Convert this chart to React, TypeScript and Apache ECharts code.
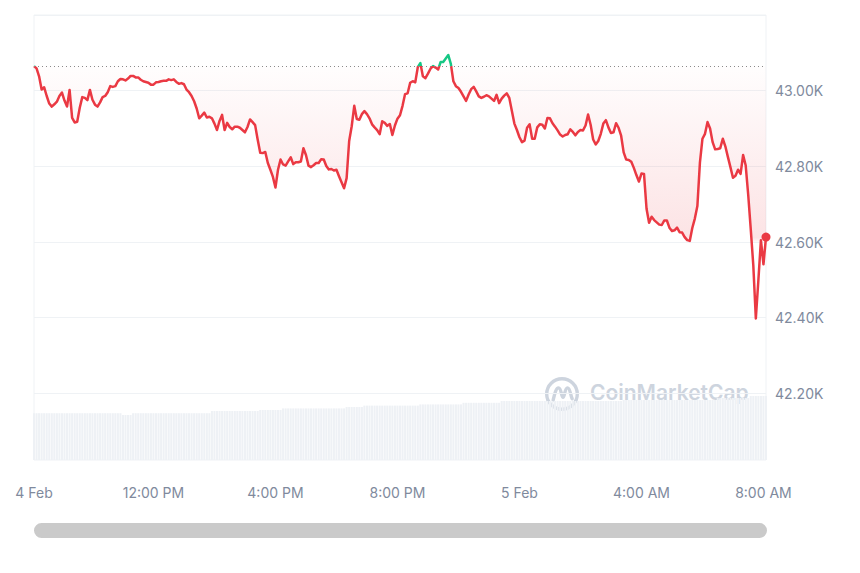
import React, { useEffect, useRef } from 'react';
import * as echarts from 'echarts';

// 5-minute BTC prices (USD), 4 Feb 08:05 -> 5 Feb 08:05
const startUtc = Date.UTC(2024, 1, 4, 8, 5);
const stepMinutes = 5;
const basePrice = 43065;
const yMin = 42024;
const yMax = 43200;

const prices: number[] = [
  43065, 43059, 43038, 43003, 43009, 42986, 42966, 42958, 42964, 42971,
  42986, 42995, 42974, 42958, 43002, 42928, 42916, 42918, 42955, 42983,
  42981, 42975, 43002, 42976, 42963, 42958, 42969, 42983, 42986, 42996,
  43012, 43010, 43012, 43025, 43031, 43030, 43027, 43032, 43039, 43039,
  43035, 43035, 43029, 43025, 43023, 43021, 43016, 43016, 43022, 43023,
  43025, 43026, 43026, 43030, 43028, 43030, 43023, 43018, 43020, 43017,
  43003, 42996, 42986, 42972, 42953, 42927, 42934, 42942, 42929, 42931,
  42927, 42913, 42896, 42920, 42936, 42896, 42915, 42904, 42898, 42905,
  42905, 42902, 42896, 42890, 42904, 42924, 42917, 42909, 42871, 42836,
  42835, 42838, 42809, 42791, 42772, 42744, 42791, 42818, 42805, 42802,
  42813, 42824, 42806, 42811, 42811, 42813, 42848, 42830, 42802, 42798,
  42803, 42809, 42809, 42819, 42818, 42801, 42792, 42793, 42789, 42791,
  42774, 42758, 42742, 42769, 42867, 42906, 42960, 42925, 42923, 42938,
  42946, 42938, 42927, 42911, 42903, 42896, 42885, 42919, 42915, 42907,
  42912, 42883, 42908, 42926, 42935, 42960, 42991, 42993, 43021, 43025,
  43022, 43062, 43073, 43038, 43033, 43045, 43058, 43065, 43061, 43056,
  43076, 43076, 43085, 43094, 43071, 43025, 43012, 43007, 42997, 42985,
  42973, 42990, 43004, 43010, 42998, 42985, 42981, 42984, 42988, 42985,
  42979, 42973, 42989, 42967, 42979, 42987, 42993, 42981, 42947, 42913,
  42896, 42877, 42864, 42868, 42902, 42911, 42873, 42873, 42903, 42911,
  42910, 42900, 42928, 42927, 42914, 42905, 42895, 42884, 42879, 42883,
  42885, 42898, 42891, 42882, 42891, 42896, 42895, 42908, 42937, 42910,
  42871, 42858, 42867, 42886, 42913, 42922, 42903, 42888, 42890, 42914,
  42902, 42881, 42837, 42818, 42817, 42812, 42796, 42777, 42760, 42781,
  42780, 42688, 42651, 42667, 42658, 42652, 42646, 42645, 42657, 42657,
  42638, 42629, 42631, 42638, 42626, 42625, 42613, 42605, 42603, 42637,
  42662, 42695, 42810, 42873, 42886, 42917, 42900, 42864, 42845, 42846,
  42848, 42873, 42853, 42825, 42798, 42770, 42775, 42791, 42780, 42830,
  42803, 42725, 42634, 42539, 42398, 42499, 42605, 42541, 42613,
];

// 24h volume (USD billions) behind each point
const volumes: number[] = [
  11.7, 11.7, 11.7, 11.7, 11.7, 11.7, 11.7, 11.7, 11.7, 11.7,
  11.7, 11.7, 11.7, 11.7, 11.7, 11.7, 11.7, 11.7, 11.7, 11.7,
  11.7, 11.7, 11.7, 11.7, 11.7, 11.7, 11.7, 11.7, 11.7, 11.7,
  11.7, 11.7, 11.7, 11.7, 11.7,
  11.25, 11.25, 11.25, 11.25,
  11.7, 11.7, 11.7, 11.7, 11.7, 11.7, 11.7, 11.7, 11.7, 11.7,
  11.7, 11.7, 11.7, 11.7, 11.7, 11.7, 11.7, 11.7, 11.7, 11.7,
  11.7, 11.7, 11.7, 11.7, 11.7, 11.7, 11.7, 11.7, 11.7, 11.7,
  11.7,
  12.25, 12.25, 12.25, 12.25, 12.25, 12.25, 12.25, 12.25, 12.25, 12.25,
  12.25, 12.25, 12.25, 12.25, 12.25, 12.25, 12.25, 12.25, 12.25,
  12.5, 12.5, 12.5, 12.5, 12.5, 12.5, 12.5, 12.5, 12.5,
  12.9, 12.9, 12.9, 12.9, 12.9, 12.9, 12.9, 12.9, 12.9, 12.9,
  12.9, 12.9, 12.9, 12.9, 12.9, 12.9, 12.9, 12.9, 12.9, 12.9,
  12.9, 12.9, 12.9, 12.9, 12.9,
  13.25, 13.25, 13.25, 13.25, 13.25, 13.25, 13.25,
  13.6, 13.6, 13.6, 13.6, 13.6, 13.6, 13.6, 13.6, 13.6, 13.6,
  13.6, 13.6, 13.6, 13.6, 13.6, 13.6, 13.6, 13.6, 13.6, 13.6,
  13.6, 13.6,
  13.9, 13.9, 13.9, 13.9, 13.9, 13.9, 13.9, 13.9, 13.9, 13.9,
  13.9, 13.9, 13.9, 13.9, 13.9, 13.9, 13.9,
  14.3, 14.3, 14.3, 14.3, 14.3, 14.3, 14.3, 14.3, 14.3, 14.3,
  14.3, 14.3, 14.3, 14.3, 14.3,
  14.75, 14.75, 14.75, 14.75, 14.75, 14.75, 14.75, 14.75, 14.75, 14.75,
  14.75, 14.75, 14.75, 14.75, 14.75, 14.75, 14.75, 14.75, 14.75, 14.75,
  14.75, 14.75, 14.75, 14.75, 14.75, 14.75, 14.75, 14.75, 14.75, 14.75,
  14.75, 14.75, 14.75, 14.75, 14.75, 14.75, 14.75, 14.75, 14.75, 14.75,
  14.75, 14.75, 14.75, 14.75, 14.75, 14.75, 14.75, 14.75,
  15.0, 15.0, 15.0, 15.0, 15.0, 15.0, 15.0, 15.0, 15.0, 15.0,
  15.0, 15.0, 15.0, 15.0, 15.0, 15.0, 15.0, 15.0, 15.0, 15.0,
  15.0, 15.0, 15.0, 15.0, 15.0, 15.0, 15.0, 15.0, 15.0, 15.0,
  15.0, 15.0, 15.0, 15.0, 15.0, 15.0, 15.0,
  15.5, 15.5, 15.5, 15.5, 15.5, 15.5, 15.5, 15.5, 15.5, 15.5,
  15.5, 15.5, 15.5,
  16.0, 16.0, 16.0, 16.0, 16.0, 16.0, 16.0,
];

const monthNames = ['Jan', 'Feb', 'Mar', 'Apr', 'May', 'Jun', 'Jul', 'Aug', 'Sep', 'Oct', 'Nov', 'Dec'];
const pad = (n: number) => (n < 10 ? '0' + n : '' + n);

const categories: string[] = prices.map((_, i) => {
  const d = new Date(startUtc + i * stepMinutes * 60000);
  return `${d.getUTCFullYear()}-${pad(d.getUTCMonth() + 1)}-${pad(d.getUTCDate())} ${pad(d.getUTCHours())}:${pad(d.getUTCMinutes())}`;
});

const isLabelTick = (index: number, value: string) => {
  if (index === 0) return true;
  const hh = +value.slice(11, 13);
  const mm = +value.slice(14, 16);
  return mm === 0 && hh % 4 === 0;
};

const formatXLabel = (value: string, index: number) => {
  const hh = +value.slice(11, 13);
  const mm = +value.slice(14, 16);
  const day = +value.slice(8, 10);
  const mon = monthNames[+value.slice(5, 7) - 1];
  if (index === 0 || (hh === 0 && mm === 0)) return `${day} ${mon}`;
  if (mm !== 0 || hh % 4 !== 0) return '';
  const h12 = hh % 12 === 0 ? 12 : hh % 12;
  return `${h12}:00 ${hh < 12 ? 'AM' : 'PM'}`;
};

const logoPath =
  'M5 50A45 45 0 1 1 95 50A45 45 0 1 1 5 50Z' +
  'M24 68C28 52 32 32 40 32C48 32 48 60 53 60C58 60 58 32 66 32C74 32 75 54 80 64';

let logoRegistered = false;
function ensureLogo() {
  if (logoRegistered) return;
  echarts.graphic.registerShape('cmcLogo', echarts.graphic.extendPath(logoPath, {}));
  logoRegistered = true;
}

// layout of the price grid (pixels)
const gridTop = 15;
const gridBottomY = 460;

export default function App() {
  const ref = useRef<HTMLDivElement>(null);

  useEffect(() => {
    if (!ref.current) return;
    ensureLogo();
    const chart = echarts.init(ref.current, undefined, { renderer: 'svg' });
    const last = prices.length - 1;
    const labelColor = '#808a9d';
    const markColor = '#cdd4de';
    const red = '#ea3943';
    const green = '#16c784';

    // baseline position in pixels, used for the two-colour stroke and the fill
    const baseFrac = (yMax - basePrice) / (yMax - yMin);
    const baseY = gridTop + baseFrac * (gridBottomY - gridTop);
    const lineGradient = new echarts.graphic.LinearGradient(0, gridTop, 0, gridBottomY, [
      { offset: 0, color: green },
      { offset: baseFrac, color: green },
      { offset: baseFrac, color: red },
      { offset: 1, color: red },
    ], true);

    const option: any = {
      animation: false,
      grid: [
        {
          left: 34, right: 94, top: gridTop, bottom: 573 - gridBottomY,
          show: true, borderColor: '#eff2f5', borderWidth: 1, backgroundColor: 'transparent',
        },
        { left: 34, right: 94, top: 380, bottom: 573 - gridBottomY },
      ],
      xAxis: [
        {
          type: 'category', gridIndex: 0, data: categories, boundaryGap: false,
          axisLine: { show: false }, axisTick: { show: false }, splitLine: { show: false },
          axisLabel: {
            interval: (index: number, value: string) => isLabelTick(index, value),
            formatter: formatXLabel,
            color: labelColor, fontSize: 14, fontFamily: 'Inter', margin: 25,
          },
        },
        { type: 'category', gridIndex: 1, data: categories, boundaryGap: false, show: false },
      ],
      yAxis: [
        {
          type: 'value', gridIndex: 0, position: 'right', min: yMin, max: yMax, splitNumber: 5,
          axisLine: { show: false }, axisTick: { show: false },
          axisLabel: {
            showMinLabel: false, showMaxLabel: false,
            formatter: (v: number) => (v / 1000).toFixed(2) + 'K',
            color: labelColor, fontSize: 14, fontFamily: 'Inter', margin: 9,
          },
          splitLine: { show: true, showMinLine: false, lineStyle: { color: '#eff2f5', width: 1 } },
        },
        { type: 'value', gridIndex: 1, min: 0, max: 20, show: false },
      ],
      series: [
        {
          type: 'line', xAxisIndex: 0, yAxisIndex: 0, data: prices,
          showSymbol: false, smooth: false, z: 3,
          lineStyle: { width: 2.5, color: lineGradient, join: 'round' },
          itemStyle: { color: red },
          areaStyle: {
            origin: basePrice,
            color: new echarts.graphic.LinearGradient(0, baseY, 0, 243, [
              { offset: 0, color: 'rgba(234,57,67,0.01)' },
              { offset: 0.97, color: 'rgba(234,57,67,0.2)' },
              { offset: 1, color: 'rgba(234,57,67,0)' },
            ], true),
          },
          markLine: {
            silent: true, symbol: ['none', 'none'],
            label: { show: false },
            lineStyle: { type: [1, 3], color: '#8a8a8a', width: 1 },
            data: [{ yAxis: basePrice }],
          },
        },
        {
          type: 'scatter', xAxisIndex: 0, yAxisIndex: 0, z: 5,
          data: [[last, prices[last]]],
          symbol: 'circle', symbolSize: 9,
          itemStyle: { color: red, opacity: 1 },
        },
        {
          type: 'bar', xAxisIndex: 1, yAxisIndex: 1, data: volumes,
          barCategoryGap: '20%', itemStyle: { color: '#eef1f5' }, z: 1,
        },
      ],
      graphic: [
        {
          type: 'group', left: 545, top: 377, z: 100, silent: true,
          children: [
            {
              type: 'cmcLogo', x: 0, y: 0, scaleX: 0.34, scaleY: 0.34,
              style: { fill: 'none', stroke: markColor, lineWidth: 10, lineCap: 'round' },
            },
            {
              type: 'text', x: 45, y: 15,
              style: {
                text: 'CoinMarketCap', fill: markColor, fontSize: 21, fontWeight: 600,
                fontFamily: 'Inter', verticalAlign: 'middle', align: 'left',
              },
            },
          ],
        },
        {
          type: 'rect', left: 34, top: 523, z: 100, silent: true,
          shape: { width: 733, height: 15, r: 7.5 },
          style: { fill: '#cacaca' },
        },
      ],
    };

    chart.setOption(option);
    return () => chart.dispose();
  }, []);

  return (
    <div
      ref={ref}
      style={{ position: 'absolute', left: 0, top: 0, width: 860, height: 573, background: '#fff' }}
    />
  );
}
